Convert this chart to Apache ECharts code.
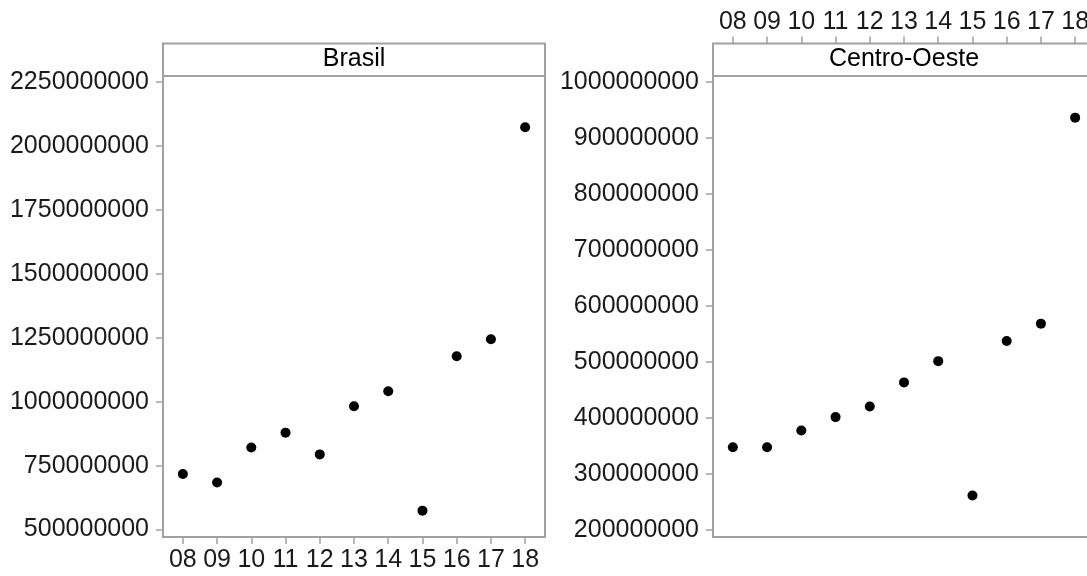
<!DOCTYPE html>
<html>
<head>
<meta charset="utf-8">
<script src="https://cdn.jsdelivr.net/npm/echarts@6/dist/echarts.min.js"></script>
<style>
html,body{margin:0;padding:0;background:#fff;}
#chart{width:1087px;height:576px;}
</style>
</head>
<body>
<div id="chart"></div>
<script>
const years = [8, 9, 10, 11, 12, 13, 14, 15, 16, 17, 18];
const yearLabels = ['08', '09', '10', '11', '12', '13', '14', '15', '16', '17', '18'];
const panelTitles = ['Brasil', 'Centro-Oeste'];
const brasil = [717000000, 684000000, 821000000, 879000000, 794000000, 982000000, 1041000000, 574000000, 1178000000, 1244000000, 2073000000];
const centroOeste = [347000000, 347000000, 377000000, 401000000, 420000000, 463000000, 501000000, 261000000, 537000000, 568000000, 936000000];
const brasilTicks = [500000000, 750000000, 1000000000, 1250000000, 1500000000, 1750000000, 2000000000, 2250000000];
const centroTicks = [200000000, 300000000, 400000000, 500000000, 600000000, 700000000, 800000000, 900000000, 1000000000];

const FONT = '"Liberation Sans", Arial, sans-serif';
const FS = 25;
const GRAY = '#a0a0a0';
const TXT = '#1a1a1a';

// layout
const PLOT_TOP = 76, PLOT_H = 461, PLOT_W = 382, STRIP_H = 32.5;
const LEFTS = [163, 713];

const chart = echarts.init(document.getElementById('chart'), null, {renderer: 'canvas'});

function pairs(vals) { return years.map((y, i) => [y, vals[i]]); }
function yearFmt(v) { const i = years.indexOf(Math.round(v)); return i >= 0 ? yearLabels[i] : ''; }

const xCommon = {
  type: 'value', min: 7.42, max: 18.58,
  splitLine: {show: false},
  axisLine: {show: false},
  axisTick: {show: true, length: 7, lineStyle: {color: GRAY, width: 1.5}, customValues: years},
  axisLabel: {customValues: years, formatter: yearFmt, color: TXT, fontFamily: FONT, fontSize: FS, margin: 11, hideOverlap: false}
};
function yAxisFor(idx, min, max, ticks) {
  return {
    type: 'value', gridIndex: idx, min: min, max: max,
    splitLine: {show: false},
    axisLine: {show: false},
    axisTick: {show: true, length: 7, lineStyle: {color: GRAY, width: 1.5}, customValues: ticks},
    axisLabel: {customValues: ticks, formatter: v => String(v), color: TXT, fontFamily: FONT, fontSize: FS, margin: 14, hideOverlap: false}
  };
}

const graphics = [];
LEFTS.forEach((l, i) => {
  graphics.push({
    type: 'rect', silent: true, z: 10,
    shape: {x: l, y: PLOT_TOP - STRIP_H, width: PLOT_W, height: STRIP_H},
    style: {fill: 'none', stroke: GRAY, lineWidth: 2}
  });
  graphics.push({
    type: 'text', silent: true, z: 11,
    x: l + PLOT_W / 2, y: PLOT_TOP - STRIP_H / 2 - 1,
    style: {text: panelTitles[i], fill: '#000', font: FS + 'px ' + FONT, textAlign: 'center', textVerticalAlign: 'middle'}
  });
});

chart.setOption({
  animation: false,
  backgroundColor: '#fff',
  grid: LEFTS.map(l => ({left: l, top: PLOT_TOP, width: PLOT_W, height: PLOT_H, show: true, borderColor: GRAY, borderWidth: 2, backgroundColor: 'transparent', containLabel: false, outerBoundsMode: 'none'})),
  xAxis: [
    Object.assign({}, xCommon, {gridIndex: 0, position: 'bottom'}),
    Object.assign({}, xCommon, {gridIndex: 1, position: 'top', offset: STRIP_H, axisLabel: Object.assign({}, xCommon.axisLabel, {margin: 9})})
  ],
  yAxis: [
    yAxisFor(0, 471000000, 2273500000, brasilTicks),
    yAxisFor(1, 186800000, 1010400000, centroTicks)
  ],
  graphic: graphics,
  series: [
    {type: 'scatter', xAxisIndex: 0, yAxisIndex: 0, data: pairs(brasil), symbol: 'circle', symbolSize: 10, itemStyle: {color: '#000', opacity: 1}},
    {type: 'scatter', xAxisIndex: 1, yAxisIndex: 1, data: pairs(centroOeste), symbol: 'circle', symbolSize: 10, itemStyle: {color: '#000', opacity: 1}}
  ]
});
</script>
</body>
</html>
